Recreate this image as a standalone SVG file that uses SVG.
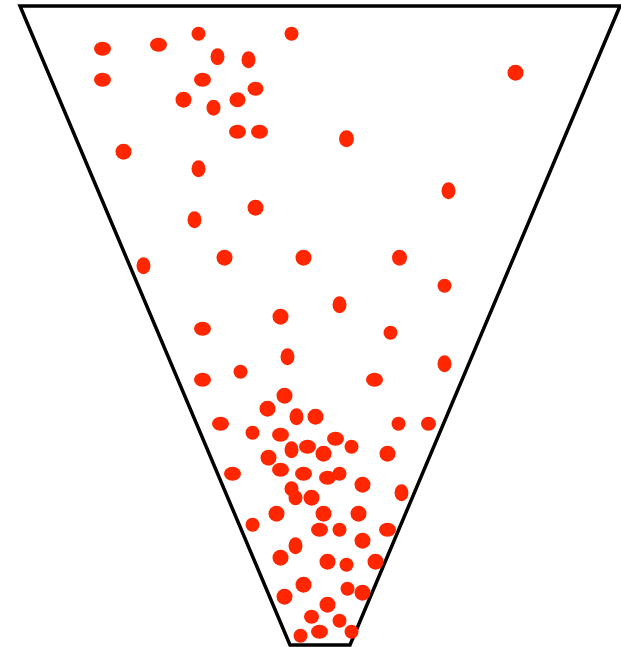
<svg xmlns="http://www.w3.org/2000/svg" width="621" height="647" viewBox="0 0 621 647">
<style>
.funnel{fill:none;stroke:#000;stroke-width:3.5;stroke-linejoin:miter}
.d{fill:#ff2600}
</style>
<rect width="621" height="647" fill="#fff"/>
<g id="funnel">
<polygon class="funnel" points="20,6 620,6 350,645 290,645"/>
</g>
<g id="dots" class="d" transform="translate(0.5,0.7)">
<ellipse cx="102" cy="48" rx="8.5" ry="7"/>
<ellipse cx="158" cy="44" rx="8.5" ry="7"/>
<ellipse cx="198" cy="33" rx="7" ry="7"/>
<ellipse cx="291" cy="33" rx="7" ry="7"/>
<ellipse cx="217" cy="56" rx="7" ry="8.5"/>
<ellipse cx="248" cy="59" rx="7" ry="8.5"/>
<ellipse cx="102" cy="79" rx="8.5" ry="7"/>
<ellipse cx="202" cy="79" rx="8.5" ry="7"/>
<ellipse cx="255" cy="88" rx="8" ry="7"/>
<ellipse cx="183" cy="99" rx="8" ry="8"/>
<ellipse cx="213" cy="107" rx="7" ry="8"/>
<ellipse cx="237" cy="99" rx="8" ry="7.5"/>
<ellipse cx="515" cy="72" rx="8" ry="8"/>
<ellipse cx="237" cy="131" rx="8.5" ry="7"/>
<ellipse cx="259" cy="131" rx="8.5" ry="7"/>
<ellipse cx="346" cy="138" rx="7.5" ry="8.5"/>
<ellipse cx="123" cy="151" rx="8" ry="8"/>
<ellipse cx="198" cy="168" rx="7" ry="8.5"/>
<ellipse cx="448" cy="190" rx="7" ry="8.5"/>
<ellipse cx="255" cy="207" rx="8" ry="8"/>
<ellipse cx="194" cy="219" rx="7" ry="8.5"/>
<ellipse cx="224" cy="257" rx="8" ry="8"/>
<ellipse cx="303" cy="257" rx="8" ry="8"/>
<ellipse cx="399" cy="257" rx="7.5" ry="8"/>
<ellipse cx="143" cy="265" rx="7" ry="8.5"/>
<ellipse cx="444" cy="285" rx="7" ry="7"/>
<ellipse cx="339" cy="304" rx="7" ry="8.5"/>
<ellipse cx="280" cy="316" rx="8" ry="8"/>
<ellipse cx="202" cy="328" rx="8.5" ry="7"/>
<ellipse cx="390" cy="332" rx="7" ry="7"/>
<ellipse cx="287" cy="356" rx="7" ry="8.5"/>
<ellipse cx="444" cy="363" rx="7" ry="8.5"/>
<ellipse cx="240" cy="371" rx="7" ry="7"/>
<ellipse cx="202" cy="379" rx="8.5" ry="7"/>
<ellipse cx="374" cy="379" rx="8.5" ry="7"/>
<ellipse cx="284" cy="395" rx="8" ry="8"/>
<ellipse cx="267" cy="408" rx="8" ry="8"/>
<ellipse cx="296" cy="416" rx="7" ry="8.5"/>
<ellipse cx="315" cy="416" rx="8" ry="8"/>
<ellipse cx="220" cy="423" rx="8.5" ry="7"/>
<ellipse cx="398" cy="423" rx="7" ry="7"/>
<ellipse cx="428" cy="423" rx="7.5" ry="7"/>
<ellipse cx="252" cy="432" rx="7" ry="7"/>
<ellipse cx="280" cy="434" rx="8.5" ry="7"/>
<ellipse cx="335" cy="438" rx="8.5" ry="7"/>
<ellipse cx="351" cy="446" rx="7" ry="7"/>
<ellipse cx="291" cy="449" rx="7" ry="8.5"/>
<ellipse cx="307" cy="446" rx="8.5" ry="7"/>
<ellipse cx="323" cy="453" rx="8" ry="8"/>
<ellipse cx="268" cy="457" rx="8" ry="8"/>
<ellipse cx="387" cy="453" rx="8" ry="8"/>
<ellipse cx="280" cy="469" rx="8.5" ry="7"/>
<ellipse cx="232" cy="473" rx="8.5" ry="7"/>
<ellipse cx="303" cy="473" rx="8.5" ry="7"/>
<ellipse cx="327" cy="477" rx="8.5" ry="7"/>
<ellipse cx="339" cy="473" rx="7" ry="7"/>
<ellipse cx="362" cy="484" rx="8" ry="8"/>
<ellipse cx="291" cy="488" rx="7" ry="7.5"/>
<ellipse cx="295" cy="497" rx="7" ry="7.5"/>
<ellipse cx="311" cy="497" rx="8" ry="8"/>
<ellipse cx="401" cy="492" rx="7" ry="8.5"/>
<ellipse cx="276" cy="513" rx="8" ry="8"/>
<ellipse cx="323" cy="513" rx="8" ry="8"/>
<ellipse cx="358" cy="513" rx="8" ry="8"/>
<ellipse cx="252" cy="524" rx="7" ry="7"/>
<ellipse cx="319" cy="529" rx="8.5" ry="7"/>
<ellipse cx="339" cy="529" rx="7" ry="7"/>
<ellipse cx="387" cy="529" rx="8.5" ry="7"/>
<ellipse cx="295" cy="545" rx="7" ry="8.5"/>
<ellipse cx="362" cy="540" rx="8" ry="8"/>
<ellipse cx="280" cy="557" rx="8" ry="8"/>
<ellipse cx="327" cy="561" rx="8" ry="8"/>
<ellipse cx="346" cy="564" rx="7" ry="7"/>
<ellipse cx="375" cy="561" rx="8" ry="8"/>
<ellipse cx="303" cy="584" rx="8" ry="8"/>
<ellipse cx="347" cy="588" rx="7" ry="7"/>
<ellipse cx="362" cy="592" rx="8" ry="8"/>
<ellipse cx="284" cy="596" rx="8" ry="8"/>
<ellipse cx="327" cy="604" rx="8" ry="8"/>
<ellipse cx="311" cy="616" rx="7.5" ry="7"/>
<ellipse cx="339" cy="620" rx="7" ry="7"/>
<ellipse cx="319" cy="631" rx="8.5" ry="7"/>
<ellipse cx="300" cy="635" rx="7" ry="7"/>
<ellipse cx="351" cy="631" rx="7" ry="7"/>
</g>
</svg>
